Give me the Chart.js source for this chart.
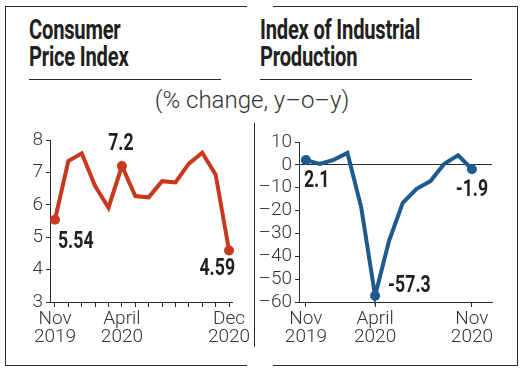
<!DOCTYPE html>
<html>
<head>
<meta charset="utf-8">
<script src="https://cdn.jsdelivr.net/npm/chart.js@4.4.0/dist/chart.umd.min.js"></script>
<style>
  body { margin: 0; background: #fff; width: 522px; height: 374px; position: relative; overflow: hidden; }
  .ln { position: absolute; background: #2b2b2b; }
  .title { position: absolute; font-family: Roboto, "Liberation Sans", sans-serif; font-weight: 700;
           font-size: 28px; line-height: 27px; color: #231f20; transform: scaleX(0.72); transform-origin: 0 0;
           white-space: nowrap; letter-spacing: -0.3px; }
  .sub { position: absolute; left: 0; width: 504px; top: 86px; text-align: center; font-family: Roboto, sans-serif;
         font-weight: 300; font-size: 24px; line-height: 28px; color: #333; white-space: nowrap; }
  .box { position: absolute; }
</style>
</head>
<body>
<!-- frame -->
<div class="ln" style="left:5px;top:6px;width:242px;height:1px"></div>
<div class="ln" style="left:273px;top:6px;width:245px;height:1px"></div>
<div class="ln" style="left:5px;top:365px;width:242px;height:1px"></div>
<div class="ln" style="left:273px;top:365px;width:245px;height:1px"></div>
<div class="ln" style="left:5px;top:6px;width:1px;height:360px"></div>
<div class="ln" style="left:517px;top:6px;width:1px;height:360px"></div>
<div class="ln" style="left:254px;top:123px;width:1px;height:224px"></div>

<div class="title" style="left:29px;top:16px">Consumer<br>Price Index</div>
<div class="title" style="left:260px;top:16px">Index of Industrial<br>Production</div>
<div class="ln" style="left:29px;top:79px;width:192px;height:1px"></div>
<div class="ln" style="left:260px;top:79px;width:212px;height:1px"></div>
<div class="sub">(% change, y–o–y)</div>

<div class="box" style="left:0;top:115px"><canvas id="cpiChart" width="252" height="250"></canvas></div>
<div class="box" style="left:256px;top:115px"><canvas id="iipChart" width="261" height="250"></canvas></div>

<script>
// Consumer Price Index, % change y-o-y
const cpiMonths = ['Nov 2019', 'Dec 2019', 'Jan 2020', 'Feb 2020', 'Mar 2020', 'Apr 2020', 'May 2020',
                   'Jun 2020', 'Jul 2020', 'Aug 2020', 'Sep 2020', 'Oct 2020', 'Nov 2020', 'Dec 2020']
const cpiValues = [5.54, 7.35, 7.59, 6.58, 5.91, 7.2, 6.27, 6.23, 6.73, 6.69, 7.27, 7.61, 6.93, 4.59]
const cpiTickIdx = [0, 5, 13]
const cpiTickText = [['Nov', '2019'], ['April', '2020'], ['Dec', '2020']]
const cpiCalloutIdx = [0, 5, 13]
const cpiCallouts = ['5.54', '7.2', '4.59']
const cpiYTicks = [3, 4, 5, 6, 7, 8]

// Index of Industrial Production, % change y-o-y
const iipMonths = ['Nov 2019', 'Dec 2019', 'Jan 2020', 'Feb 2020', 'Mar 2020', 'Apr 2020', 'May 2020',
                   'Jun 2020', 'Jul 2020', 'Aug 2020', 'Sep 2020', 'Oct 2020', 'Nov 2020']
const iipValues = [2.1, 0.4, 2.2, 5.2, -18.7, -57.3, -33.4, -16.6, -10.5, -7.1, 0.5, 4.2, -1.9]
const iipTickIdx = [0, 5, 12]
const iipTickText = [['Nov', '2019'], ['April', '2020'], ['Nov', '2020']]
const iipCalloutIdx = [0, 5, 12]
const iipCallouts = ['2.1', '-57.3', '-1.9']
const iipYTicks = [10, 0, -10, -20, -30, -40, -50, -60]

const axisColor = '#2b2b2b'
const tickFont = { family: 'Roboto, sans-serif', weight: 300, size: 19, lineHeight: '18px' }

// bold numbers next to the marked points, squeezed to look condensed
const calloutPlugin = {
    id: 'callouts',
    afterDatasetsDraw(chart, args, opts) {
        const ctx = chart.ctx
        const pts = chart.getDatasetMeta(0).data
        ctx.save()
        ctx.font = 'bold 23px Roboto, "Liberation Sans", sans-serif'
        ctx.fillStyle = '#231f20'
        ctx.textBaseline = 'middle'
        opts.idx.forEach((i, k) => {
            const p = opts.place[k]
            ctx.save()
            ctx.translate(pts[i].x + p.dx, pts[i].y + p.dy)
            ctx.scale(0.77, 1)
            ctx.textAlign = p.align
            ctx.fillText(opts.text[k], 0, 0)
            ctx.restore()
        })
        ctx.restore()
    }
}

function makeChart(id, o) {
    return new Chart(document.getElementById(id), {
        type: 'line',
        data: {
            datasets: [{
                data: o.values.map((v, i) => ({ x: i, y: v })),
                borderColor: o.color,
                borderWidth: 4,
                borderJoinStyle: 'miter',
                tension: 0,
                clip: false,
                pointRadius: c => o.calloutIdx.includes(c.dataIndex) ? 5 : 0,
                pointBorderWidth: 0,
                pointBackgroundColor: o.color
            }]
        },
        plugins: [calloutPlugin],
        options: {
            responsive: false,
            animation: false,
            events: [],
            layout: { padding: o.padding },
            plugins: {
                legend: { display: false },
                tooltip: { enabled: false },
                callouts: { idx: o.calloutIdx, text: o.callouts, place: o.place }
            },
            scales: {
                x: {
                    type: 'linear',
                    min: o.xMin,
                    max: o.xMax,
                    afterBuildTicks: s => { s.ticks = o.months.map((m, i) => ({ value: i })) },
                    afterFit: s => { s.height = o.xH; s.paddingLeft = 0; s.paddingRight = 0 },
                    border: { display: true, color: axisColor, width: 1 },
                    grid: {
                        drawOnChartArea: false,
                        tickLength: 5,
                        tickColor: c => (o.allTicks || o.tickIdx.includes(c.tick.value)) ? axisColor : 'rgba(0,0,0,0)'
                    },
                    ticks: {
                        autoSkip: false,
                        maxRotation: 0,
                        padding: 3,
                        color: '#333',
                        font: tickFont,
                        callback: v => {
                            const k = o.tickIdx.indexOf(v)
                            return k < 0 ? '' : o.tickText[k]
                        }
                    }
                },
                y: {
                    min: Math.min(...o.yTicks),
                    max: Math.max(...o.yTicks),
                    afterBuildTicks: s => { s.ticks = o.yTicks.map(v => ({ value: v })) },
                    afterFit: s => { s.width = o.yW; s.paddingTop = 0; s.paddingBottom = 0 },
                    border: { display: true, color: axisColor, width: 1 },
                    grid: {
                        drawOnChartArea: o.zeroLine,
                        color: c => (c.tick && c.tick.value === 0) ? axisColor : 'rgba(0,0,0,0)',
                        tickLength: 4,
                        tickColor: axisColor
                    },
                    ticks: {
                        padding: 3,
                        color: '#333',
                        font: tickFont,
                        callback: v => String(v).replace('-', '–')
                    }
                }
            }
        }
    })
}

makeChart('cpiChart', {
    months: cpiMonths, values: cpiValues, tickIdx: cpiTickIdx, tickText: cpiTickText,
    calloutIdx: cpiCalloutIdx, callouts: cpiCallouts, yTicks: cpiYTicks,
    color: '#c8381c', xMin: -0.37, xMax: 13.22, xH: 63, yW: 50, allTicks: true, zeroLine: false,
    padding: { top: 25, right: 20, left: 0, bottom: 0 },
    place: [{ align: 'left', dx: 3, dy: 23 }, { align: 'center', dx: -1, dy: -22 }, { align: 'right', dx: 6, dy: 19 }]
})

makeChart('iipChart', {
    months: iipMonths, values: iipValues, tickIdx: iipTickIdx, tickText: iipTickText,
    calloutIdx: iipCalloutIdx, callouts: iipCallouts, yTicks: iipYTicks,
    color: '#1d5b8e', xMin: -0.5, xMax: 13.45, xH: 63, yW: 43, allTicks: false, zeroLine: true,
    padding: { top: 27, right: 25, left: 0, bottom: 0 },
    place: [{ align: 'left', dx: -2, dy: 21 }, { align: 'left', dx: 13, dy: -10 }, { align: 'center', dx: 0, dy: 21 }]
})
</script>
</body>
</html>
